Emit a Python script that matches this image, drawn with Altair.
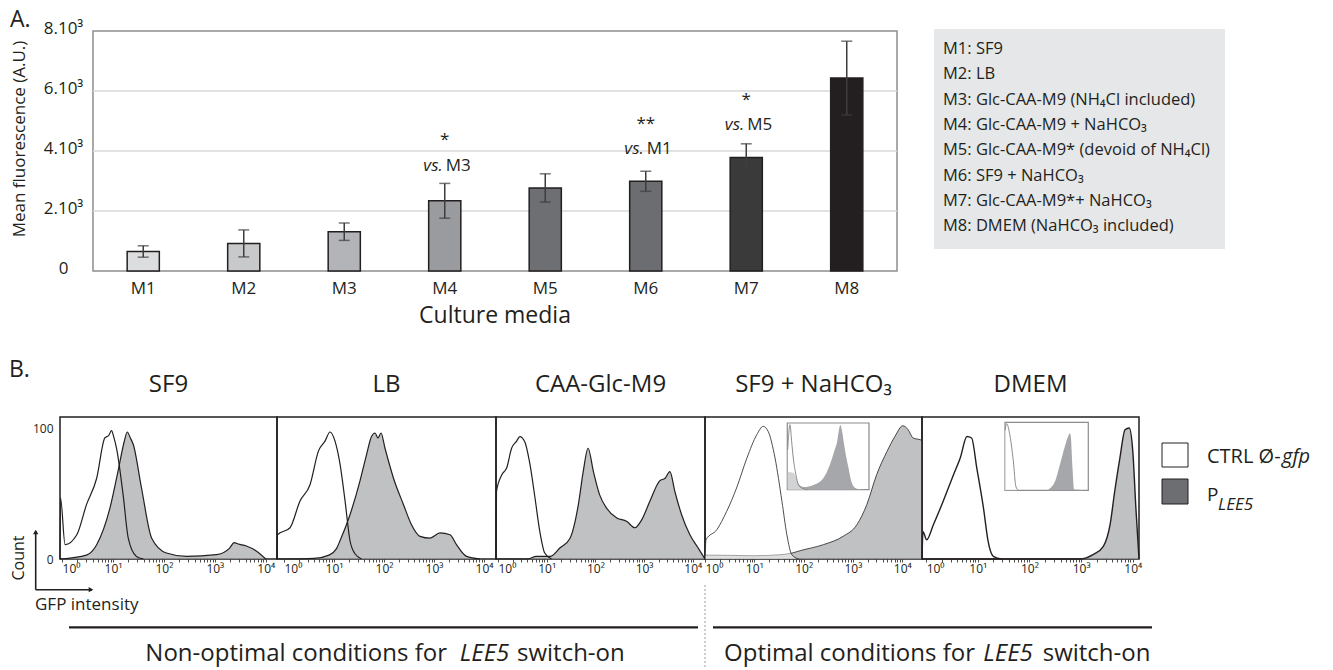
import math
import pandas as pd
import altair as alt

DARK = "#231f20"
FILL_GRAY = "#a5a7aa"
ONE = pd.DataFrame({"k": [0]})

# ---------------- Panel A data ----------------
MEDIA = ["M1", "M2", "M3", "M4", "M5", "M6", "M7", "M8"]
MEAN_FLUO = [650, 920, 1310, 2340, 2770, 2990, 3780, 6430]
ERR = [190, 450, 290, 580, 470, 335, 460, 1230]
BAR_COLORS = ["#dcddde", "#c8c9cb", "#b2b4b7", "#9a9b9e", "#6e6f72", "#6c6d70", "#3a3a3b", "#231f20"]
Y_TICKS = [0, 2000, 4000, 6000, 8000]
Y_TICK_LABELS = ["0", "2.10³", "4.10³", "6.10³", "8.10³"]
GRID_VALUES = [2000, 4000, 6000]
ANNOT_MEDIA = ["M4", "M6", "M7"]
ANNOT_STARS = ["*", "**", "*"]
ANNOT_STAR_Y = [4200, 4740, 5520]
ANNOT_REF = ["M3", "M1", "M5"]
ANNOT_VS_Y = [3340, 3900, 4700]
LEGEND_A = [
    "M1: SF9",
    "M2:  LB",
    "M3: Glc-CAA-M9 (NH₄Cl included)",
    "M4: Glc-CAA-M9 + NaHCO₃",
    "M5: Glc-CAA-M9* (devoid of NH₄Cl)",
    "M6:  SF9 + NaHCO₃",
    "M7: Glc-CAA-M9*+ NaHCO₃",
    "M8: DMEM (NaHCO₃ included)",
]

# ---------------- Panel B data ----------------
PANEL_TITLES = ["SF9", "LB", "CAA-Glc-M9", "SF9 + NaHCO₃", "DMEM"]
PANEL_W = [217, 219, 209, 217, 217]
X_DOMAINS = [[-0.04, 4.22], [-0.14, 4.24], [-0.04, 4.25], [0.0, 4.4], [-0.08, 4.12]]
MAJOR_TICKS = [0, 1, 2, 3, 4]
MAJOR_LABELS = ["10⁰", "10¹", "10²", "10³", "10⁴"]

CTRL_X = [
    [-0.04, -0.03, 0.06, 0.29, 0.48, 0.68, 0.84, 0.92, 0.97, 1.02, 1.07, 1.2, 1.3, 1.46, 1.6],
    [-0.14, -0.13, 0.12, 0.32, 0.52, 0.69, 0.82, 0.92, 1.02, 1.12, 1.22, 1.32, 1.42, 1.55],
    [-0.04, -0.03, 0.08, 0.18, 0.28, 0.38, 0.45, 0.55, 0.66, 0.76, 0.86, 0.96, 1.1],
    [0.0, 0.02, 0.24, 0.44, 0.64, 0.85, 1.05, 1.18, 1.28, 1.42, 1.56, 1.66, 1.76, 1.9],
    [-0.08, -0.06, 0.01, 0.14, 0.33, 0.53, 0.66, 0.79, 0.88, 0.98, 1.11, 1.2, 1.3, 1.45],
]
CTRL_Y = [
    [0, 47, 11, 18.6, 41.7, 62, 92.9, 95, 98.5, 93, 85, 49, 16, 2, 0],
    [0, 18.6, 24, 44.5, 57, 83, 90.5, 97.5, 90.5, 73, 45, 14, 4, 0],
    [0, 52, 64.7, 70, 85, 90.3, 94, 90, 72, 47, 21, 4.6, 0],
    [0, 14.8, 22.5, 36.6, 54.5, 77.5, 95.4, 101.8, 98, 77.5, 44.3, 18.6, 3.3, 0],
    [0, 21, 14.8, 26.3, 44.3, 64.7, 77.5, 94, 92.9, 70, 39, 13.6, 2, 0],
]
LEE5_X = [
    [-0.04, 0.48, 0.68, 0.94, 1.1, 1.22, 1.28, 1.34, 1.4, 1.56, 1.76, 2.05, 2.44, 3.03, 3.29, 3.38, 3.46, 3.62, 3.82, 4.0],
    [-0.14, 0.6, 0.9, 1.05, 1.12, 1.32, 1.52, 1.65, 1.75, 1.82, 1.88, 1.94, 2.02, 2.19, 2.39, 2.55, 2.72, 2.92, 3.12, 3.32, 3.45, 3.65, 3.92],
    [-0.04, 0.6, 0.79, 1.07, 1.27, 1.48, 1.65, 1.75, 1.85, 1.96, 2.09, 2.23, 2.44, 2.64, 2.81, 2.95, 3.12, 3.32, 3.43, 3.53, 3.63, 3.77, 3.94, 4.11, 4.2, 4.25],
    [0.0, 0.5, 1.0, 1.5, 1.76, 1.93, 2.4, 2.8, 3.08, 3.28, 3.48, 3.69, 3.85, 4.01, 4.12, 4.22, 4.36, 4.4],
    [-0.08, 2.98, 3.23, 3.43, 3.56, 3.65, 3.75, 3.85, 3.93, 4.0, 4.06, 4.12],
]
LEE5_Y = [
    [0, 3, 11, 39, 67.5, 90, 97.5, 93, 87.7, 54.5, 16, 4.6, 2, 3.3, 8.4, 12.5, 11.5, 10, 6, 0],
    [0, 0.5, 3, 8, 14, 34, 60, 80, 94, 96.7, 92.9, 96.7, 85, 62, 41.7, 26.3, 17.4, 16, 20, 18.6, 11, 2, 0],
    [0, 0, 2, 2, 8.4, 16, 41.7, 67, 85, 67, 49, 39, 31.5, 29, 24, 30, 44.5, 60, 62, 67, 52, 34, 18.6, 8.4, 3, 0],
    [3, 2.8, 2.5, 3.2, 4.5, 6.4, 11, 17.4, 26.3, 41.7, 64.7, 82.6, 94, 102.3, 99.2, 92.9, 91.6, 91],
    [0, 0, 3.3, 9.7, 26.3, 52, 77.5, 99.2, 100.5, 82.6, 39, 0],
]
CTRL_VEIL = [False, False, False, True, False]
LINE_W = [1.2, 1.2, 1.2, 0.8, 1.4]

# insets (local 0-100 units) for panels 4 and 5
INSET_CTRL_X = {3: [0.5, 3.3, 5.3, 7.3, 10.6, 13.5, 17.6, 25], 4: [0, 2, 6, 10, 13, 16]}
INSET_CTRL_Y = {3: [60, 97.5, 72.5, 47.5, 22.5, 7.5, 2.5, 0], 4: [88, 98, 80, 43, 6, 0]}
INSET_LEE5_X = {3: [0, 8, 14, 20, 32, 44, 52, 58, 61, 63, 65, 67, 69, 72, 75, 78, 81, 85, 100],
                4: [0, 50, 54, 60, 66, 72, 76, 78, 79, 81, 83, 100]}
INSET_LEE5_Y = {3: [27, 25, 8, 4, 7, 17, 37, 60, 72, 88, 97, 88, 72, 50, 32, 14, 5, 1.5, 0],
                4: [0, 0, 3, 13, 38, 65, 80, 84, 79, 33, 1, 0]}
INSET_X_RANGE = {3: [82.3, 164], 4: [83, 166.3]}
INSET_Y_RANGE = {3: [72.7, 6], 4: [73.3, 5.3]}


def ternary(values, labels):
    expr = "''"
    for v, l in reversed(list(zip(values, labels))):
        expr = f"datum.value == {v} ? '{l}' : ({expr})"
    return expr


def txt(text, x, y, size, align="left", baseline="middle", style="normal", angle=0, color=DARK):
    kw = dict(text=text, align=align, baseline=baseline, fontSize=size, fontStyle=style, color=color)
    if angle:
        kw["angle"] = angle
    return alt.Chart(ONE).mark_text(**kw).encode(x=alt.value(x), y=alt.value(y))


def hrule(x1, x2, y, width, color=DARK, dash=None):
    kw = dict(color=color, strokeWidth=width)
    if dash:
        kw["strokeDash"] = dash
    return alt.Chart(ONE).mark_rule(**kw).encode(x=alt.value(x1), x2=alt.value(x2), y=alt.value(y))


def vrule(x, y1, y2, width, color=DARK, dash=None):
    kw = dict(color=color, strokeWidth=width)
    if dash:
        kw["strokeDash"] = dash
    return alt.Chart(ONE).mark_rule(**kw).encode(x=alt.value(x), y=alt.value(y1), y2=alt.value(y2))


def box(x1, x2, y1, y2, fill, stroke=None, sw=0):
    kw = dict(fill=fill)
    if stroke:
        kw["stroke"] = stroke
        kw["strokeWidth"] = sw
    return alt.Chart(ONE).mark_rect(**kw).encode(
        x=alt.value(x1), x2=alt.value(x2), y=alt.value(y1), y2=alt.value(y2))


# ---------------- Panel A ----------------
SX_A = alt.Scale(domain=MEDIA, paddingInner=0.68, paddingOuter=0.34)
AX_XA = alt.Axis(title=None, labelAngle=0, ticks=False, tickSize=0, domain=False,
                 labelFontSize=17, labelPadding=9, labelColor=DARK)
SY_A = alt.Scale(domain=[0, 8000], nice=False)
AX_YA = alt.Axis(title=None, values=Y_TICKS, labelExpr=ternary(Y_TICKS, Y_TICK_LABELS), grid=False,
                 ticks=False, tickSize=0, domain=False, labelAlign="center", labelPadding=30,
                 labelFontSize=17, labelOffset=-3, labelColor=DARK)


def XA(f):
    return alt.X(f, type="nominal", scale=SX_A, axis=AX_XA, sort=MEDIA)


def YA(f):
    return alt.Y(f, type="quantitative", scale=SY_A, axis=AX_YA)


bar_df = pd.DataFrame({"media": MEDIA, "value": MEAN_FLUO, "err": ERR})
bar_df["lo"] = bar_df["value"] - bar_df["err"]
bar_df["hi"] = bar_df["value"] + bar_df["err"]
grid_df = pd.DataFrame({"g": GRID_VALUES})
ann_df = pd.DataFrame({"media": ANNOT_MEDIA, "star": ANNOT_STARS, "sy": ANNOT_STAR_Y,
                       "ref": ANNOT_REF, "vy": ANNOT_VS_Y})

grid = alt.Chart(grid_df).mark_rule(color="#d9d9d9", strokeWidth=1.5).encode(y=YA("g"))
bars = alt.Chart(bar_df).mark_bar(stroke=DARK, strokeWidth=1.5).encode(
    x=XA("media"), y=YA("value"),
    fill=alt.Fill("media:N", scale=alt.Scale(domain=MEDIA, range=BAR_COLORS), legend=None))
err_rule = alt.Chart(bar_df).mark_rule(color="#3d3d3d", strokeWidth=1.5).encode(
    x=XA("media"), y=YA("lo"), y2="hi")
cap_hi = alt.Chart(bar_df).mark_tick(color="#3d3d3d", thickness=1.5, size=11).encode(x=XA("media"), y=YA("hi"))
cap_lo = alt.Chart(bar_df).mark_tick(color="#3d3d3d", thickness=1.5, size=11).encode(x=XA("media"), y=YA("lo"))
stars = alt.Chart(ann_df).mark_text(fontSize=17, baseline="alphabetic", color=DARK).encode(
    x=XA("media"), y=YA("sy"), text="star:N")
vs_txt = alt.Chart(ann_df).mark_text(text="vs.", fontSize=17, fontStyle="italic", align="right",
                                     dx=-2, baseline="alphabetic", color=DARK).encode(x=XA("media"), y=YA("vy"))
ref_txt = alt.Chart(ann_df).mark_text(fontSize=17, align="left", dx=1, baseline="alphabetic",
                                      color=DARK).encode(x=XA("media"), y=YA("vy"), text="ref:N")

a_layers = [grid, bars, err_rule, cap_hi, cap_lo, stars, vs_txt, ref_txt,
            txt("A.", -83, -4, 23, baseline="alphabetic"),
            txt("Mean fluorescence (A.U.)", -73, 108, 17, align="center", angle=270),
            txt("Culture media", 402, 285, 23, align="center"),
            box(841, 1132, -2, 218, "#e6e7e8")]
for i, line in enumerate(LEGEND_A):
    a_layers.append(txt(line, 850, 18 + 25.3 * i, 16.5))

panelA = alt.layer(*a_layers).properties(
    width=804, height=240, view=alt.ViewBackground(stroke="#8d8d8d", strokeWidth=1.5))

spacer = alt.Chart(ONE).mark_point(opacity=0).encode(x=alt.value(0), y=alt.value(0)).properties(
    width=33, height=240)

# ---------------- Panel B ----------------
X_TICK_VALUES = sorted(MAJOR_TICKS + [d + math.log10(m) for d in range(4) for m in range(2, 10)])
X_LABEL_EXPR = ternary(MAJOR_TICKS, MAJOR_LABELS)
H_B = 142


def hist_panel(i):
    sx = alt.Scale(domain=X_DOMAINS[i], nice=False, zero=False)
    sy = alt.Scale(domain=[0, 109], nice=False)
    ax_x = alt.Axis(title=None, values=X_TICK_VALUES, labelExpr=X_LABEL_EXPR, grid=False, domain=False,
                    ticks=True, tickSize=3, tickColor=DARK, tickWidth=0.8, labelFontSize=12,
                    labelPadding=1, labelColor=DARK, labelOverlap=False,
                    labelAlign={"condition": {"test": "datum.value == 0", "value": "left"}, "value": "center"})
    if i == 0:
        ax_y = alt.Axis(title=None, values=[0, 100], grid=False, ticks=False, tickSize=0, domain=False,
                        labelFontSize=12, labelPadding=7, labelColor=DARK)
    else:
        ax_y = None
    X = lambda f: alt.X(f, type="quantitative", scale=sx, axis=ax_x)
    Y = lambda f: alt.Y(f, type="quantitative", scale=sy, axis=ax_y)
    ctrl_df = pd.DataFrame({"x": CTRL_X[i], "y": CTRL_Y[i]})
    lee_df = pd.DataFrame({"x": LEE5_X[i], "y": LEE5_Y[i]})
    lw = LINE_W[i]
    layers = [alt.Chart(lee_df).mark_area(color=FILL_GRAY, interpolate="monotone",
                                          line={"color": DARK, "strokeWidth": lw}).encode(x=X("x"), y=Y("y"))]
    if CTRL_VEIL[i]:
        layers.append(alt.Chart(ctrl_df).mark_area(color="white", opacity=0.5, interpolate="monotone")
                      .encode(x=X("x"), y=Y("y")))
    layers.append(alt.Chart(ctrl_df).mark_line(color=DARK, strokeWidth=lw, interpolate="monotone")
                  .encode(x=X("x"), y=Y("y")))
    layers.append(txt(PANEL_TITLES[i], PANEL_W[i] / 2, -32, 24, align="center"))

    if i == 0:
        layers += [
            txt("B.", -51, -40, 23, baseline="alphabetic"),
            txt("Count", -41, 141, 16, align="center", angle=270),
            vrule(-24.3, 114, 172.7, 1.6),
            hrule(-24.3, 32, 172.7, 1.6),
            alt.Chart(ONE).mark_point(shape="triangle-up", filled=True, color=DARK, size=28, opacity=1)
            .encode(x=alt.value(-24.3), y=alt.value(115)),
            alt.Chart(ONE).mark_point(shape="triangle-right", filled=True, color=DARK, size=28, opacity=1)
            .encode(x=alt.value(31), y=alt.value(172.7)),
            txt("GFP intensity", -25, 187.7, 17),
            hrule(9, 638, 210.3, 2.3),
            hrule(653, 1092, 210.3, 2.3),
            vrule(645, 168, 251, 1, color="#9a9a9a", dash=[2, 2]),
            txt("Non-optimal conditions for", 387, 244, 24, align="right", baseline="alphabetic"),
            txt("LEE5", 424.5, 244, 24, align="center", style="italic", baseline="alphabetic"),
            txt("switch-on", 457, 244, 24, baseline="alphabetic"),
            txt("Optimal conditions for", 915, 244, 24, align="right", baseline="alphabetic"),
            txt("LEE5", 948, 244, 24, align="center", style="italic", baseline="alphabetic"),
            txt("switch-on", 982.7, 244, 24, baseline="alphabetic"),
        ]
    if i == 4:
        layers += [
            box(240, 266, 26, 50, "white", DARK, 1),
            box(240, 266, 62, 87, "#6d6e71", DARK, 1),
            txt("CTRL Ø-", 285, 40, 20),
            txt("gfp", 360, 40, 20, style="italic"),
            txt("P", 285, 84.3, 19, baseline="alphabetic"),
            txt("LEE5", 296, 93, 17, style="italic", baseline="alphabetic"),
        ]
    main = alt.layer(*layers)
    if i in INSET_X_RANGE:
        isx = alt.Scale(domain=[0, 100], range=INSET_X_RANGE[i], nice=False, zero=False)
        isy = alt.Scale(domain=[0, 100], range=INSET_Y_RANGE[i], nice=False)
        IX = lambda f: alt.X(f, type="quantitative", scale=isx, axis=None)
        IY = lambda f: alt.Y(f, type="quantitative", scale=isy, axis=None)
        frame_df = pd.DataFrame({"x0": [0], "x1": [100], "y0": [0], "y1": [100]})
        ic_df = pd.DataFrame({"x": INSET_CTRL_X[i], "y": INSET_CTRL_Y[i]})
        il_df = pd.DataFrame({"x": INSET_LEE5_X[i], "y": INSET_LEE5_Y[i]})
        frame = alt.Chart(frame_df).mark_rect(fill="white", stroke="#8c8c8c", strokeWidth=1.2).encode(
            x=IX("x0"), x2="x1", y=IY("y0"), y2="y1")
        iarea = alt.Chart(il_df).mark_area(color=FILL_GRAY, interpolate="monotone").encode(x=IX("x"), y=IY("y"))
        iveil = alt.Chart(ic_df).mark_area(color="white", opacity=0.5, interpolate="monotone").encode(
            x=IX("x"), y=IY("y"))
        iline = alt.Chart(ic_df).mark_line(color="#8c8c8c", strokeWidth=1, interpolate="monotone").encode(
            x=IX("x"), y=IY("y"))
        inset = alt.layer(frame, iarea, iveil, iline)
        panel = alt.layer(main, inset).resolve_scale(x="independent", y="independent")
    else:
        panel = main
    return panel.properties(width=PANEL_W[i], height=H_B,
                            view=alt.ViewBackground(stroke=DARK, strokeWidth=1.5))


panels = [hist_panel(i) for i in range(5)]

rowA = alt.hconcat(spacer, panelA, spacing=0, bounds="flush")
rowB = alt.hconcat(*panels, spacing=0, bounds="flush")

# nested flush rows report no height, so the row spacing includes panel A's height (240)
chart = alt.concat(rowA, rowB, columns=1, spacing=386, bounds="flush").properties(
    padding=0
).configure(font="Open Sans").configure_view(stroke=None)

chart.save("out.html", embed_options={"renderer": "svg", "actions": False})
